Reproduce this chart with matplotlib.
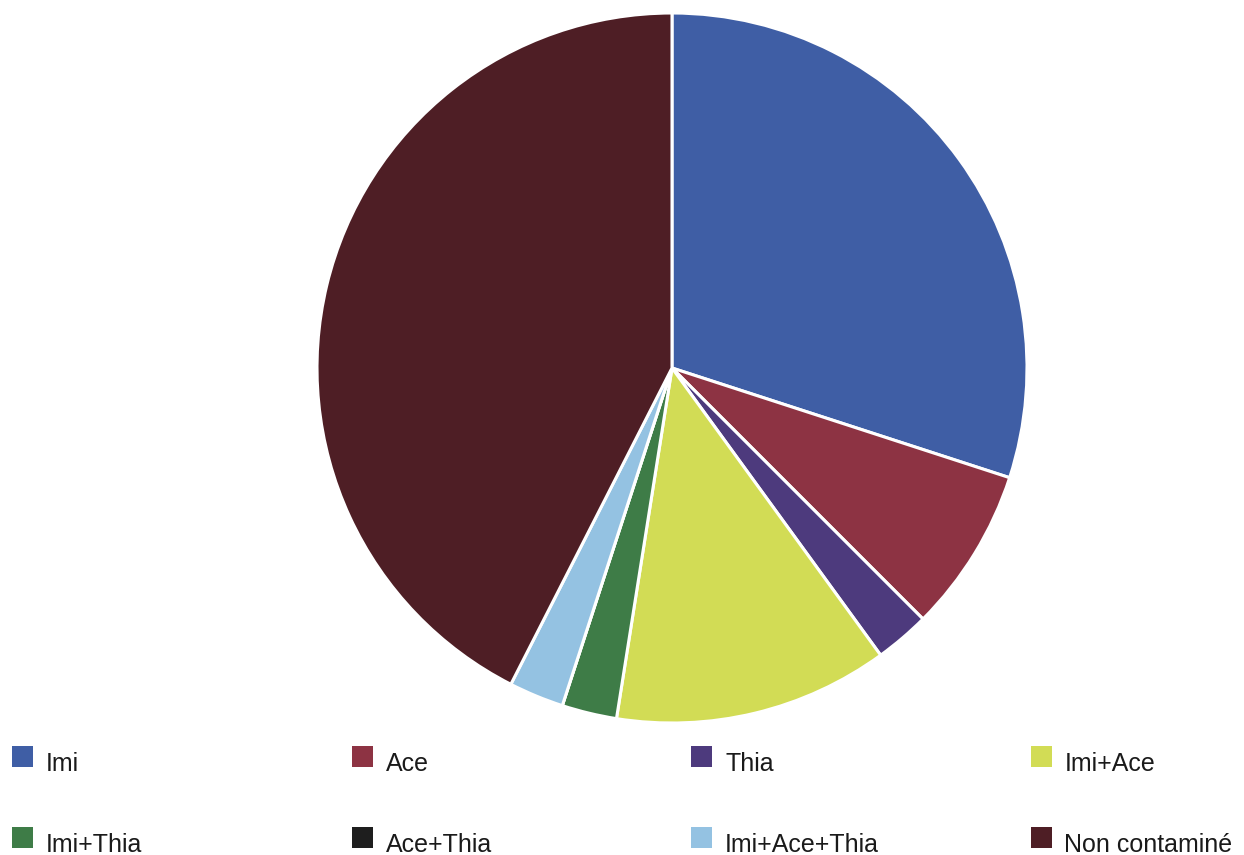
import matplotlib.pyplot as plt
from matplotlib.patches import Rectangle

plt.rcParams['font.family'] = ['Liberation Sans', 'DejaVu Sans']

# Sample counts per contamination category
labels = ['Imi', 'Ace', 'Thia', 'Imi+Ace', 'Imi+Thia', 'Ace+Thia',
          'Imi+Ace+Thia', 'Non contaminé']
counts = [12, 3, 1, 5, 1, 0, 1, 17]
colors = ['#3F5EA5', '#8D3343', '#4D3A7D', '#D2DC55', '#3E7C47', '#1E1E1E',
          '#94C2E2', '#4E1E25']

W, H = 1244, 855
fig = plt.figure(figsize=(W / 100, H / 100), dpi=100)

# Pie, clockwise from 12 o'clock
r = 355
cx, cy = 672, 368
ax = fig.add_axes([(cx - r) / W, (H - cy - r) / H, 2 * r / W, 2 * r / H])
ax.pie(counts, colors=colors, startangle=90, counterclock=False,
       wedgeprops=dict(edgecolor='white', linewidth=2.2))
ax.set_aspect('equal')
ax.set_xlim(-1, 1)
ax.set_ylim(-1, 1)
ax.axis('off')

# Legend laid out on an even 4-column grid
for i, (lab, col) in enumerate(zip(labels, colors)):
    x0 = 12 + 339.5 * (i % 4)
    yc = 756 + 81 * (i // 4)
    fig.add_artist(Rectangle((x0 / W, (H - yc - 10.5) / H), 21 / W, 21 / H,
                             transform=fig.transFigure, facecolor=col,
                             edgecolor='none'))
    fig.text((x0 + 34) / W, (H - yc - 15) / H, lab, fontsize=18,
             color='#1a1a1a', va='baseline', ha='left')

fig.savefig('out.png', dpi=100, facecolor='white')
